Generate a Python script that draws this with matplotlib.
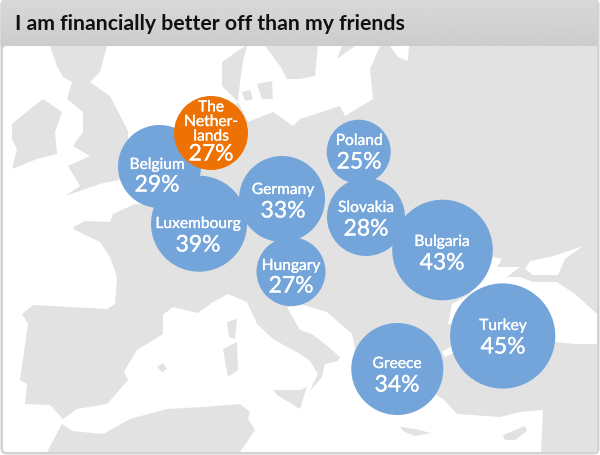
import numpy as np
import matplotlib
matplotlib.use('Agg')
import matplotlib.pyplot as plt
import matplotlib.patheffects as pe
from matplotlib.patches import Circle, FancyBboxPatch, Polygon

# drawn back to front, the Netherlands sits on top of Belgium
countries = ['Belgium', 'Luxembourg', 'The\nNether-\nlands', 'Germany', 'Hungary',
             'Poland', 'Slovakia', 'Bulgaria', 'Turkey', 'Greece']
percent = [29, 39, 27, 33, 27, 25, 28, 43, 45, 34]

# bubble layout, in pixels of the picture
bubble_x = [159.5, 199, 211, 282, 291, 358.7, 366, 442.5, 502.7, 397.3]
bubble_y = [167.5, 224.7, 134, 200, 272.7, 152.7, 218, 251, 337, 370]
bubble_r = [41.5, 48, 37, 43, 34.5, 32, 39, 50.3, 52.6, 46]
label_x = [157, 198, 211, 283, 291, 359, 366, 442, 503, 397]
name_y = [166, 225, 123, 191, 267, 142, 209, 243, 327, 365]
pct_y = [186, 246, 155, 212, 287, 163, 230, 264, 348, 386]
colors = ['#74a5da', '#74a5da', '#ee7203'] + ['#74a5da'] * 7

title = 'I am financially better off than my friends'

# map outlines (grey land, white seas), traced by eye
mainland = [(73, 228), (85, 222), (110, 223), (113, 215), (135, 205), (155, 205), (180, 160), (215, 130),
            (238, 103), (222, 87), (222, 63), (245, 47), (247, 47), (243, 62), (240, 83), (238, 103), (248, 123),
            (273, 113), (293, 127), (300, 120), (340, 107), (345, 117), (373, 100), (370, 70), (380, 47),
            (390, 47), (398, 58), (408, 62), (409, 47), (597, 47), (597, 453), (541, 453), (543, 411),
            (520, 413), (500, 418), (457, 415), (443, 400), (435, 395), (400, 412), (365, 400), (352, 335),
            (327, 313), (300, 305), (287, 308), (300, 331), (312, 335), (325, 345), (340, 358), (338, 362),
            (325, 365), (322, 378), (310, 392), (313, 385), (318, 375), (310, 362), (300, 355), (273, 340),
            (257, 325), (247, 303), (228, 295), (213, 303), (198, 314), (173, 308), (163, 316), (163, 335),
            (137, 351), (124, 373), (128, 381), (122, 388), (107, 405), (77, 410), (63, 420), (50, 406),
            (25, 405), (27, 385), (20, 381), (28, 325), (22, 315), (33, 306), (107, 310), (115, 305),
            (117, 278), (110, 258), (100, 243), (75, 231)]
sweden = [(265, 47), (280, 67), (287, 80), (300, 80), (315, 77), (318, 47)]
gotland = [(337, 60), (342, 47), (355, 47)]
britain = [(50, 47), (107, 47), (100, 73), (90, 83), (110, 97), (128, 132), (128, 147), (130, 163),
           (118, 170), (123, 180), (100, 185), (65, 197), (80, 187), (68, 167), (90, 157), (73, 147),
           (83, 133), (83, 113), (67, 100), (72, 83), (63, 78), (57, 67)]
ireland = [(12, 125), (30, 110), (43, 100), (62, 113), (55, 133), (57, 155), (37, 160), (12, 170),
           (17, 150), (12, 140)]
africa = [(47, 453), (62, 425), (72, 432), (103, 435), (130, 420), (167, 410), (203, 408), (240, 405),
          (250, 413), (248, 420), (255, 431), (240, 453)]
islands = [[(227, 323), (237, 320), (235, 340), (229, 338)],
           [(223, 350), (237, 343), (238, 371), (228, 378), (226, 368)],
           [(157, 368), (163, 364), (167, 370), (162, 373)],
           [(273, 391), (300, 391), (307, 388), (300, 410), (277, 396)],
           [(400, 428), (415, 430), (431, 434), (415, 437), (403, 432)],
           [(503, 436), (525, 427), (527, 432), (515, 441), (505, 441)],
           [(242, 93), (250, 91), (253, 100), (245, 102)],
           [(257, 85), (272, 82), (273, 100), (262, 100)]]
black_sea = [(493, 258), (502, 260), (497, 268), (520, 268), (507, 278), (520, 278), (533, 283), (557, 283),
             (575, 295), (597, 315), (597, 345), (577, 345), (553, 343), (505, 330), (448, 325),
             (452, 305), (470, 295)]
azov = [(530, 262), (550, 258), (583, 247), (565, 260), (558, 276), (533, 276), (525, 270)]
marmara = [(442, 353), (452, 347), (458, 352), (445, 358)]

land_color = '#e2e2e2'
frame_color = '#d2d2d2'

plt.rcParams['font.family'] = ['Lato', 'DejaVu Sans']

fig = plt.figure(figsize=(6, 4.56), dpi=100)
ax = fig.add_axes([0, 0, 1, 1])

frame = FancyBboxPatch((0.5, 0), 599, 455.5, boxstyle='round,pad=0,rounding_size=6', fc=frame_color, ec='none')
ax.add_patch(frame)
sea = FancyBboxPatch((3, 47), 594, 406, boxstyle='round,pad=0,rounding_size=4', fc='white', ec='none')
ax.add_patch(sea)

for shape in [mainland, sweden, gotland, britain, ireland, africa] + islands:
    ax.add_patch(Polygon(shape, closed=True, fc=land_color, ec='none'))
for shape in [black_sea, azov, marmara]:
    ax.add_patch(Polygon(shape, closed=True, fc='white', ec='none'))

# header band, slightly darker towards the bottom
grad = np.linspace(0.85, 0.80, 40).reshape(-1, 1)
im = ax.imshow(grad, cmap='gray', vmin=0, vmax=1, extent=(0, 597, 47, 0), aspect='auto', zorder=3)
im.set_clip_path(frame)
ax.set_xlim(0, 600)
ax.set_ylim(456, 0)
ax.axis('off')
ax.text(15, 24, title, fontsize=15.3, fontweight='bold', color='#111111', va='center', ha='left', zorder=4)

thicker = [pe.withStroke(linewidth=0.2, foreground='white')]
for i in range(len(countries)):
    ax.add_patch(Circle((bubble_x[i], bubble_y[i]), bubble_r[i], fc=colors[i], ec='none', zorder=5))
    ax.text(label_x[i], name_y[i], countries[i], color='white', fontsize=11.2, ha='center', va='center',
            linespacing=1.05, zorder=6, path_effects=thicker)
    ax.text(label_x[i], pct_y[i], str(percent[i]) + '%', color='white', fontsize=16.5, ha='center', va='center',
            zorder=6, path_effects=thicker)

fig.savefig('out.png', dpi=100)
